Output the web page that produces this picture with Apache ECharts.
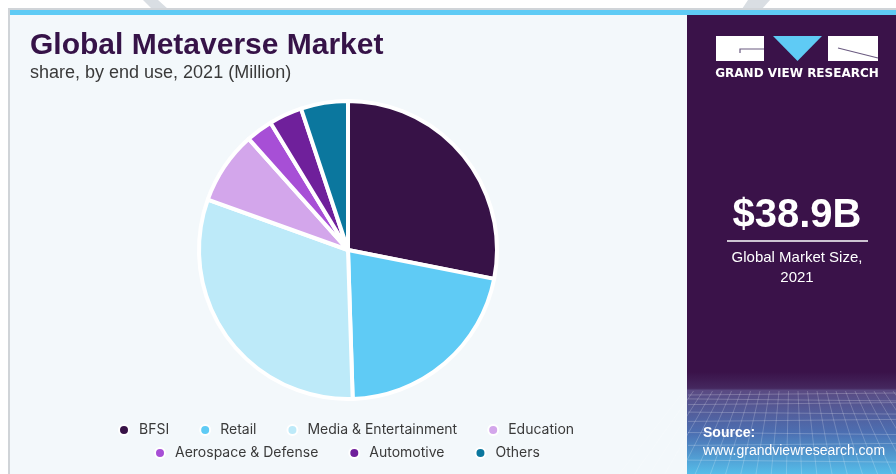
<!DOCTYPE html>
<html>
<head>
<meta charset="utf-8">
<script src="https://cdn.jsdelivr.net/npm/echarts@6/dist/echarts.min.js"></script>
<style>
html,body{margin:0;padding:0;background:#fff;}
#c{width:896px;height:474px;}
</style>
</head>
<body>
<div id="c"></div>
<script>
// ---- data ----
const categories = ['BFSI', 'Retail', 'Media & Entertainment', 'Education', 'Aerospace & Defense', 'Automotive', 'Others'];
const shareValues = [28.1, 21.4, 31.0, 7.9, 2.9, 3.6, 5.1];
const sliceColors = ['#371247', '#5fcbf5', '#bdeaf9', '#d3a6eb', '#a74fd6', '#6f209b', '#0b779e'];
const legendRow1 = ['BFSI', 'Retail', 'Media & Entertainment', 'Education'];
const legendRow2 = ['Aerospace & Defense', 'Automotive', 'Others'];
const titleText = 'Global Metaverse Market';
const subtitleText = 'share, by end use, 2021 (Million)';
const marketSize = '$38.9B';
const marketLabel = 'Global Market Size,\n2021';

const chart = echarts.init(document.getElementById('c'), null, {renderer: 'canvas'});

const pieData = categories.map((name, i) => ({
  name: name, value: shareValues[i], itemStyle: {color: sliceColors[i]}
}));

// decorative grid lines for bottom-right panel
const gridLines = [];
for (let i = 0; i < 10; i++) {
  const y = 395 + i * i * 0.9 + i * 3;
  gridLines.push({type: 'line', z: 3, silent: true,
    shape: {x1: 688, y1: y, x2: 896, y2: y + (i % 2 ? 2 : -2)},
    style: {stroke: 'rgba(255,255,255,0.22)', lineWidth: 1}});
}
for (let i = 0; i < 24; i++) {
  const x = 684 + i * 9.5;
  gridLines.push({type: 'line', z: 3, silent: true,
    shape: {x1: x, y1: 391, x2: 792 + (x - 792) * 1.6, y2: 474},
    style: {stroke: 'rgba(255,255,255,0.2)', lineWidth: 1}});
}

const legendText = {fontFamily: 'Inter', fontSize: 14, color: '#3a3a3a', padding: [0, 0, 0, 5]};

const option = {
  animation: false,
  backgroundColor: '#ffffff',
  legend: [{
    data: legendRow1, left: 113, top: 418, icon: 'circle',
    itemWidth: 10, itemHeight: 10, itemGap: 30,
    textStyle: legendText, selectedMode: false
  }, {
    data: legendRow2, left: 149, top: 441, icon: 'circle',
    itemWidth: 10, itemHeight: 10, itemGap: 30,
    textStyle: legendText, selectedMode: false
  }],
  graphic: {elements: [
    // top band & borders
    {type: 'polygon', z: 1, silent: true, shape: {points: [[143, 0], [158, 0], [168, 9], [152, 9]]}, style: {fill: '#d9dee3'}},
    {type: 'polygon', z: 1, silent: true, shape: {points: [[748, 0], [770, 0], [762, 9], [742, 9]]}, style: {fill: '#d9dee3'}},
    {type: 'rect', z: 1, silent: true, shape: {x: 8, y: 8, width: 888, height: 466}, style: {fill: '#d0d4d8'}},
    {type: 'rect', z: 1, silent: true, shape: {x: 10, y: 10, width: 886, height: 464}, style: {fill: '#f3f8fb'}},
    {type: 'rect', z: 1, silent: true, shape: {x: 10, y: 10, width: 886, height: 5}, style: {fill: '#5fcbf5'}},
    // right panel
    {type: 'rect', z: 1, silent: true, shape: {x: 687, y: 15, width: 209, height: 459}, style: {fill: '#3a1249'}},
    {type: 'rect', z: 2, silent: true, shape: {x: 687, y: 372, width: 209, height: 102},
      style: {fill: new echarts.graphic.LinearGradient(0, 0, 0, 1, [
        {offset: 0, color: '#3a1249'}, {offset: 0.16, color: '#45285f'},
        {offset: 0.18, color: '#5a4a82'}, {offset: 0.6, color: '#4c6fb2'}, {offset: 1, color: '#55bde9'}])}},
    ...gridLines,
    // logo
    {type: 'rect', z: 4, silent: true, shape: {x: 716, y: 36, width: 48, height: 25}, style: {fill: '#ffffff'}},
    {type: 'polyline', z: 5, silent: true, shape: {points: [[764, 49], [740, 49], [740, 53]]}, style: {stroke: '#6a5a80', lineWidth: 1.2, fill: null}},
    {type: 'polygon', z: 4, silent: true, shape: {points: [[773, 36], [822, 36], [797.5, 61]]}, style: {fill: '#5fcbf5'}},
    {type: 'rect', z: 4, silent: true, shape: {x: 828, y: 36, width: 50, height: 25}, style: {fill: '#ffffff'}},
    {type: 'line', z: 5, silent: true, shape: {x1: 838, y1: 48, x2: 878, y2: 58}, style: {stroke: '#6a5a80', lineWidth: 1.2}},
    {type: 'text', z: 5, silent: true, x: 797, y: 74, style: {text: 'GRAND VIEW RESEARCH', fill: '#ffffff',
      font: 'bold 12px "DejaVu Sans"', align: 'center', verticalAlign: 'middle'}},
    // market size
    {type: 'text', z: 5, silent: true, x: 797, y: 216, style: {text: marketSize, fill: '#ffffff',
      font: 'bold 40px "Liberation Sans"', align: 'center', verticalAlign: 'middle'}},
    {type: 'line', z: 5, silent: true, shape: {x1: 727, y1: 241, x2: 868, y2: 241}, style: {stroke: '#ffffff', lineWidth: 1.5}},
    {type: 'text', z: 5, silent: true, x: 797, y: 268, style: {text: marketLabel, fill: '#ffffff',
      font: '15px "Liberation Sans"', align: 'center', verticalAlign: 'middle', lineHeight: 20}},
    // source
    {type: 'text', z: 5, silent: true, x: 703, y: 433, style: {text: 'Source:', fill: '#ffffff',
      font: 'bold 14px "Liberation Sans"', verticalAlign: 'middle'}},
    {type: 'text', z: 5, silent: true, x: 703, y: 451, style: {text: 'www.grandviewresearch.com', fill: '#ffffff',
      font: '14px "Liberation Sans"', verticalAlign: 'middle'}},
    // titles
    {type: 'text', z: 5, silent: true, x: 30, y: 46, style: {text: titleText, fill: '#361348',
      font: 'bold 30px "Liberation Sans"', verticalAlign: 'middle'}},
    {type: 'text', z: 5, silent: true, x: 30, y: 73, style: {text: subtitleText, fill: '#3a3a3a',
      font: '18px "Liberation Sans"', verticalAlign: 'middle'}}
  ]},
  series: [{
    type: 'pie',
    z: 10,
    center: [348, 250],
    radius: 149,
    startAngle: 90,
    clockwise: true,
    label: {show: false},
    labelLine: {show: false},
    silent: true,
    itemStyle: {borderColor: '#ffffff', borderWidth: 4},
    data: pieData
  }]
};
chart.setOption(option);
</script>
</body>
</html>
